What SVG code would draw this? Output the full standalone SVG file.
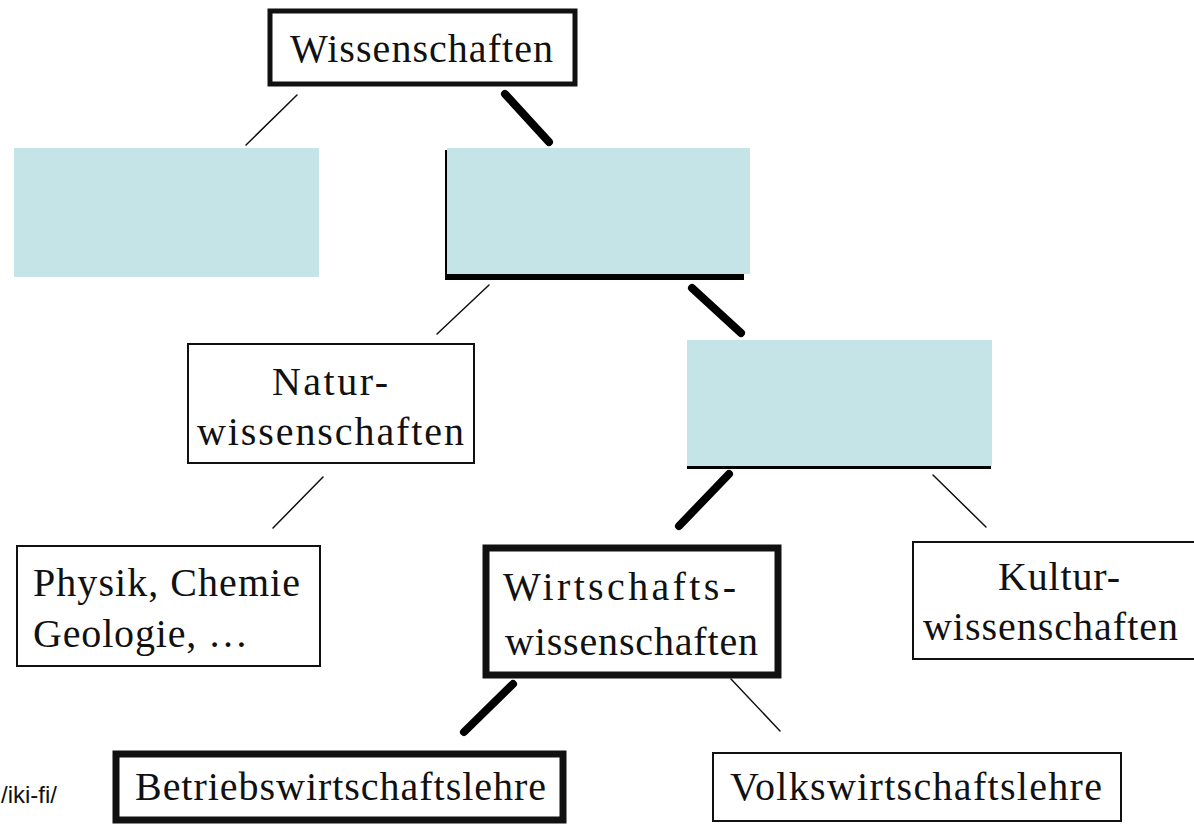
<svg xmlns="http://www.w3.org/2000/svg" width="1194" height="825" viewBox="0 0 1194 825">
<style>
.t{font-family:"Liberation Serif","Times New Roman",serif;font-size:40px;fill:#111;text-anchor:start}
.box{fill:#fff;stroke:#111}
.blue{fill:#C5E4E8}
.thin{stroke:#111;stroke-width:1.5;stroke-linecap:round}
.thick{stroke:#000;stroke-width:8;stroke-linecap:round}
</style>
<rect width="1194" height="825" fill="#fff"/>
<g id="connectors">
<line class="thin" x1="297" y1="95" x2="246" y2="145"/>
<line class="thick" x1="505" y1="94" x2="549" y2="142"/>
<line class="thin" x1="489" y1="285" x2="437" y2="334"/>
<line class="thick" x1="692" y1="288" x2="741" y2="333"/>
<line class="thin" x1="323" y1="477" x2="273" y2="528"/>
<line class="thick" x1="729" y1="474" x2="679" y2="526"/>
<line class="thin" x1="933" y1="475" x2="986" y2="527"/>
<line class="thick" x1="513" y1="684" x2="464" y2="732"/>
<line class="thin" x1="731" y1="679" x2="780" y2="731"/>
</g>
<g id="n-wissenschaften">
<rect class="box" x="270" y="11" width="305" height="73" stroke-width="5"/>
<text class="t" x="290" y="62" textLength="263" lengthAdjust="spacing">Wissenschaften</text>
</g>
<g id="n-blue1">
<rect class="blue" x="14" y="148" width="305" height="129"/>
</g>
<g id="n-blue2">
<rect x="445" y="150" width="305" height="130" fill="#000"/>
<rect x="447" y="148" width="303" height="126" class="blue"/>
<rect x="744" y="274" width="6" height="6" fill="#fff"/>
</g>
<g id="n-natur">
<rect class="box" x="188" y="344" width="286" height="119" stroke-width="2"/>
<text class="t" x="272" y="395" textLength="116" lengthAdjust="spacing">Natur-</text>
<text class="t" x="197" y="445" textLength="267" lengthAdjust="spacing">wissenschaften</text>
</g>
<g id="n-blue3">
<rect x="687" y="466" width="304" height="3" fill="#000"/>
<rect class="blue" x="687" y="340" width="305" height="126"/>
</g>
<g id="n-physik">
<rect class="box" x="17" y="546" width="303" height="120" stroke-width="2"/>
<text class="t" x="33" y="596" textLength="267" lengthAdjust="spacing">Physik, Chemie</text>
<text class="t" x="33" y="647" textLength="215" lengthAdjust="spacing">Geologie, …</text>
</g>
<g id="n-wirtschaft">
<rect class="box" x="486" y="548" width="292" height="127" stroke-width="7"/>
<text class="t" x="503" y="600" textLength="233" lengthAdjust="spacing">Wirtschafts-</text>
<text class="t" x="505" y="655" textLength="253" lengthAdjust="spacing">wissenschaften</text>
</g>
<g id="n-kultur">
<rect class="box" x="913" y="542" width="300" height="117" stroke-width="2"/>
<text class="t" x="998" y="590" textLength="122" lengthAdjust="spacing">Kultur-</text>
<text class="t" x="923" y="640" textLength="255" lengthAdjust="spacing">wissenschaften</text>
</g>
<g id="n-betrieb">
<rect class="box" x="116" y="754" width="447" height="66" stroke-width="7"/>
<text class="t" x="135" y="800" textLength="411" lengthAdjust="spacing">Betriebswirtschaftslehre</text>
</g>
<g id="n-volk">
<rect class="box" x="713" y="753" width="408" height="68" stroke-width="2"/>
<text class="t" x="730" y="800" textLength="372" lengthAdjust="spacing">Volkswirtschaftslehre</text>
</g>
<text x="1" y="803" font-family="Liberation Sans, Arial, sans-serif" font-size="24" fill="#111">/iki-fi/</text>
</svg>
